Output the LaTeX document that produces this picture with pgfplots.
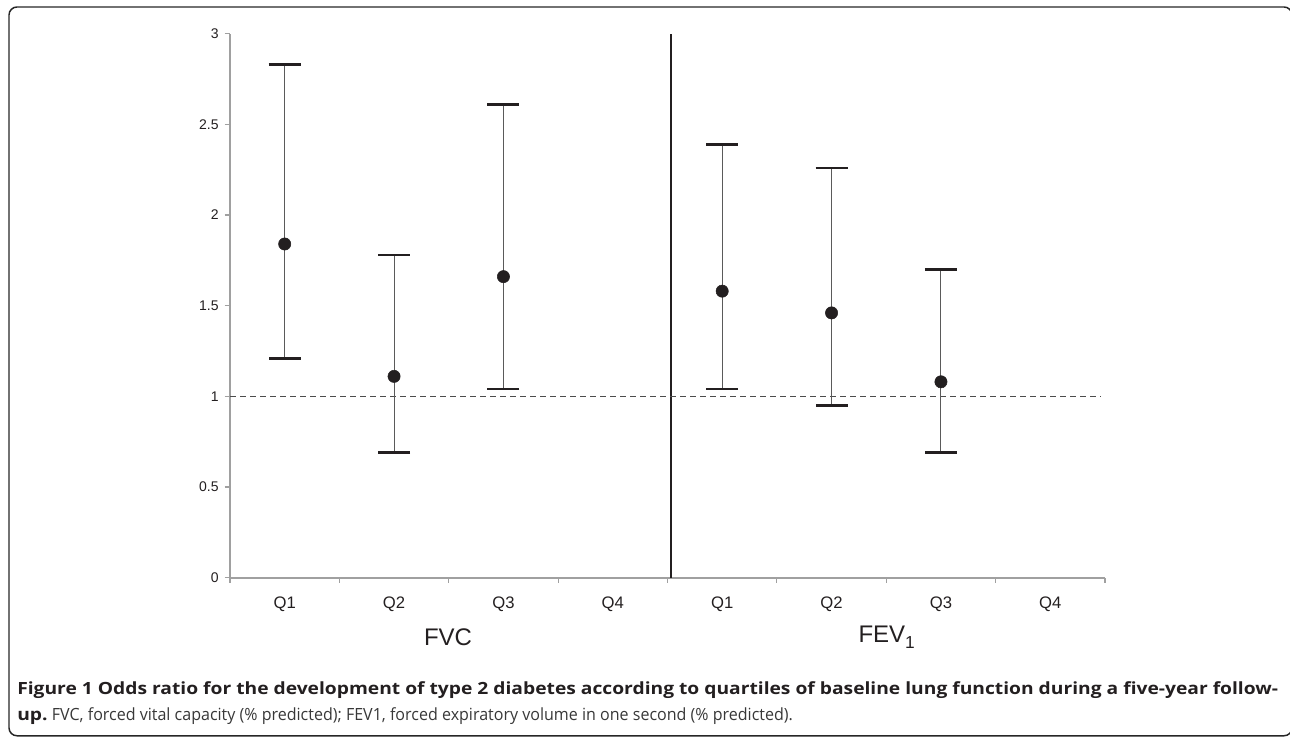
\documentclass[border=0pt]{standalone}
\usepackage{fontspec}
\setmainfont{Liberation Sans}
\newfontfamily\capfont{Open Sans}
\usepackage{graphicx}
\usepackage{pgfplots}
\usepackage{pgfplotstable}
\pgfplotsset{compat=1.18}

\definecolor{ink}{HTML}{231F20}
\definecolor{axisgray}{HTML}{A0A0A0}
\definecolor{whisk}{HTML}{5A5A5A}

% odds ratio with upper/lower 95% CI distances
\pgfplotstableread{
x    y     ep    em
0.5  1.84  0.99  0.63
1.5  1.11  0.67  0.42
2.5  1.66  0.95  0.62
4.5  1.58  0.81  0.54
5.5  1.46  0.80  0.51
6.5  1.08  0.62  0.39
}\ordata

\begin{document}
\begin{tikzpicture}
\useasboundingbox (0,0) rectangle (967.5pt,552.75pt);
\draw[line width=1.1pt, black!85, rounded corners=6pt] (6.75pt,547.5pt) rectangle (969pt,0.9pt);

\begin{axis}[
    at={(172.5pt,119.5pt)}, anchor=south west,
    scale only axis,
    width=656.25pt, height=408pt,
    xmin=0, xmax=8, ymin=0, ymax=3,
    axis x line*=bottom, axis y line*=left,
    axis line style={axisgray, line width=1.4pt},
    tick align=outside,
    major tick length=4pt,
    tick style={axisgray, line width=0.8pt},
    xtick={0,...,8},
    xticklabels={Q1,Q2,Q3,Q4,Q1,Q2,Q3,Q4},
    x tick label as interval,
    xticklabel style={font=\fontsize{12.5}{14}\selectfont, text=ink, yshift=-7pt},
    ytick={0,0.5,...,3},
    yticklabels={0,0.5,1,1.5,2,2.5,3},
    yticklabel style={font=\fontsize{10.5}{12}\selectfont, text=ink, xshift=-1pt},
    clip=false,
]
\draw[line width=1.8pt, ink] (axis cs:4.03,0) -- (axis cs:4.03,3);
\draw[line width=0.9pt, black!70, dash pattern=on 4.5pt off 3pt] (axis cs:0,1) -- (axis cs:7.96,1);
\addplot[only marks, mark=*, mark size=4.6pt, ink,
    error bars/.cd, y dir=both, y explicit,
    error bar style={line width=0.8pt, whisk},
    error mark options={rotate=90, mark size=12pt, line width=2pt, ink}]
  table[x=x, y=y, y error plus=ep, y error minus=em] {\ordata};
\end{axis}

\node[font=\fontsize{18}{20}\selectfont, text=ink] at (336pt,75pt) {FVC};
\node[font=\fontsize{18}{20}\selectfont, text=ink] at (665pt,75pt) {FEV\raisebox{-0.5ex}{\fontsize{13}{14}\selectfont 1}};

\node[anchor=base west, inner sep=0, font=\capfont\fontsize{12.6}{14}\selectfont, text=ink] at (12.75pt,32pt)
  {\scalebox{1.145}[1]{\textbf{Figure 1 Odds ratio for the development of type 2 diabetes according to quartiles of baseline lung function during a five-year follow-}}};
\node[anchor=base west, inner sep=0, font=\capfont\fontsize{12.6}{14}\selectfont, text=ink] at (12.75pt,12.5pt)
  {\scalebox{1.145}[1]{\textbf{up.}} \scalebox{0.955}[1]{\color{black!78}FVC, forced vital capacity (\% predicted); FEV1, forced expiratory volume in one second (\% predicted).}};
\end{tikzpicture}
\end{document}
